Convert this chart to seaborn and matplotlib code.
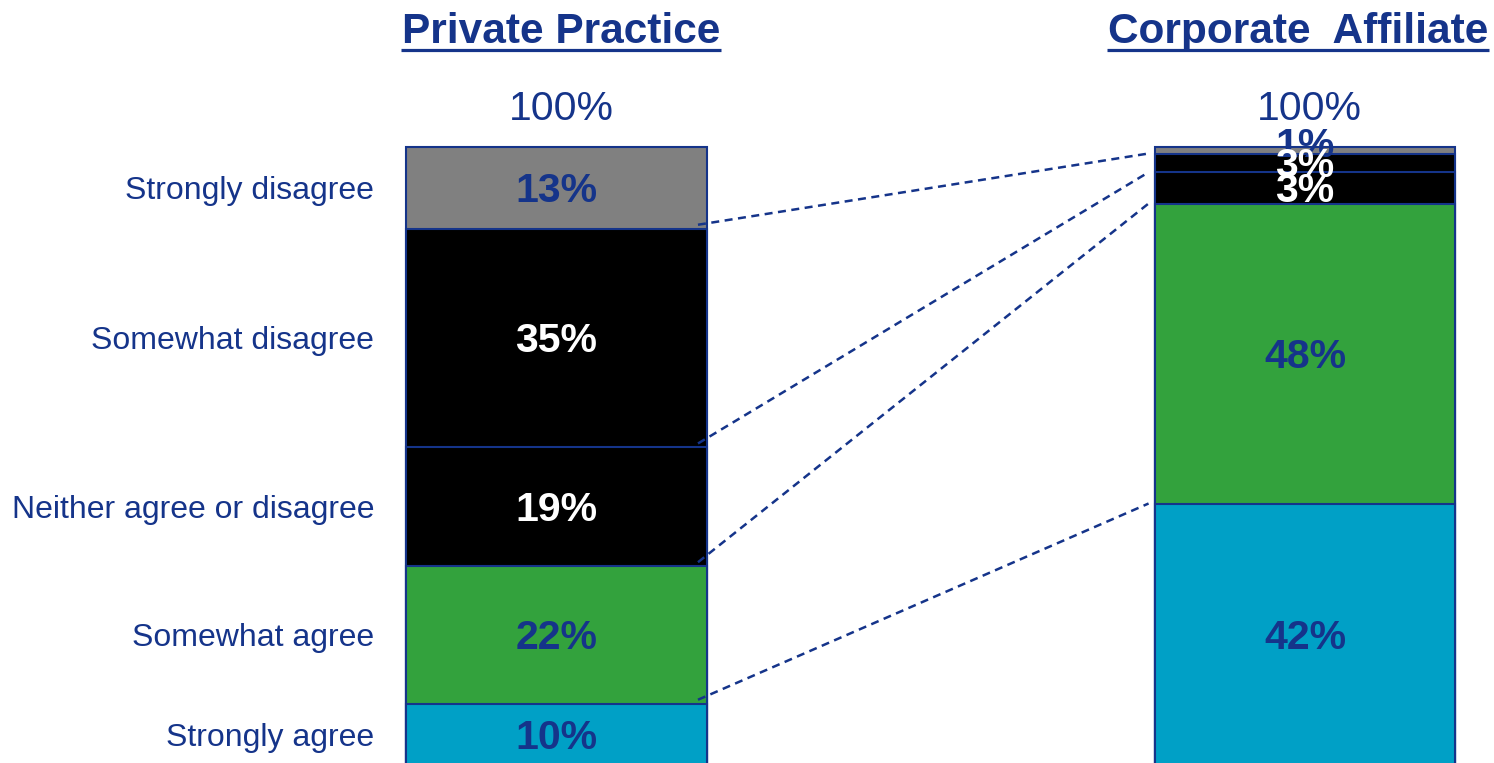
import matplotlib
matplotlib.use("Agg")
import numpy as np
import pandas as pd
import seaborn as sns
import matplotlib.pyplot as plt

# ---------------- data ----------------
groups = ["Private Practice", "Corporate  Affiliate"]
categories = ["Strongly agree", "Somewhat agree", "Neither agree or disagree",
              "Somewhat disagree", "Strongly disagree"]          # bottom -> top
private_values = [10, 22, 19, 35, 13]
corporate_values = [42, 48, 5, 3, 1]
private_labels = ["10%", "22%", "19%", "35%", "13%"]
corporate_labels = ["42%", "48%", "3%", "3%", "1%"]
total_labels = ["100%", "100%"]

# ---------------- style ----------------
NAVY = "#15348A"
seg_colors = ["#00A0C6", "#33A23D", "#000000", "#000000", "#808080"]
txt_colors = [NAVY, NAVY, "white", "white", NAVY]

sns.set_style("white")
plt.rcParams["font.family"] = ["Liberation Sans", "DejaVu Sans"]

rows = []
for g, vals in zip(groups, [private_values, corporate_values]):
    for c, v in zip(categories, vals):
        rows.append({"group": g, "category": c, "value": v})
df = pd.DataFrame(rows)
df["cum"] = df.groupby("group")["value"].cumsum()

fig = plt.figure(figsize=(14.94, 7.63), dpi=100)
ax = fig.add_axes([0, 0, 1, 1])

W = 0.402
for i in reversed(range(len(categories))):
    sub = df[df["category"] == categories[i]]
    sns.barplot(data=sub, x="group", y="cum", order=groups, color=seg_colors[i],
                saturation=1, width=W, edgecolor=NAVY, linewidth=1.5,
                errorbar=None, ax=ax)

ax.set_xlim(-0.7435, 1.2525)
ax.set_ylim(0.48, 122.56)
ax.axis("off")

# connectors
pc = np.cumsum(private_values)
cc = np.cumsum(corporate_values)
for k in range(len(categories) - 1):
    ax.plot([W / 2 - 0.012, 1 - W / 2 - 0.008], [pc[k] + 0.6, cc[k]],
            color=NAVY, lw=1.8, ls=(0, (3.2, 2.2)), zorder=5)

# segment labels (cap-centred)
seg_fs = 29.5
cap_off = 2.3
for gi, (vals, labs) in enumerate([(private_values, private_labels),
                                   (corporate_values, corporate_labels)]):
    cums = np.cumsum(vals)
    for i in reversed(range(len(vals))):
        center = cums[i] - vals[i] / 2
        extra = 1.2 if vals[i] < 2 else 0.0
        ax.text(gi, center - cap_off + extra, labs[i], ha="center", va="baseline",
                fontsize=seg_fs, fontweight="bold", color=txt_colors[i], zorder=6)

# category labels
for i, c in enumerate(categories):
    center = pc[i] - private_values[i] / 2
    ax.text(-0.2438, center - 1.8, c, ha="right", va="baseline",
            fontsize=23, color=NAVY)

# totals and titles
tops = [pc[-1], cc[-1]]
titles = []
for gi, g in enumerate(groups):
    ax.text(gi + 0.006, tops[gi] + 4.3, total_labels[gi], ha="center", va="baseline",
            fontsize=29.5, color=NAVY)
    t = ax.text(gi + (0.006 if gi == 0 else -0.009), 115.68, g, ha="center",
                va="baseline", fontsize=30.5, fontweight="bold", color=NAVY)
    titles.append(t)

fig.canvas.draw()
r = fig.canvas.get_renderer()
inv = ax.transData.inverted()
for t in titles:
    bb = t.get_window_extent(renderer=r)
    x0 = inv.transform((bb.x0 - 1, 0))[0]
    x1 = inv.transform((bb.x1 + 1, 0))[0]
    ax.plot([x0, x1], [114.64, 114.64], color=NAVY, lw=2.3,
            solid_capstyle="butt")

fig.savefig("out.png", dpi=100)
